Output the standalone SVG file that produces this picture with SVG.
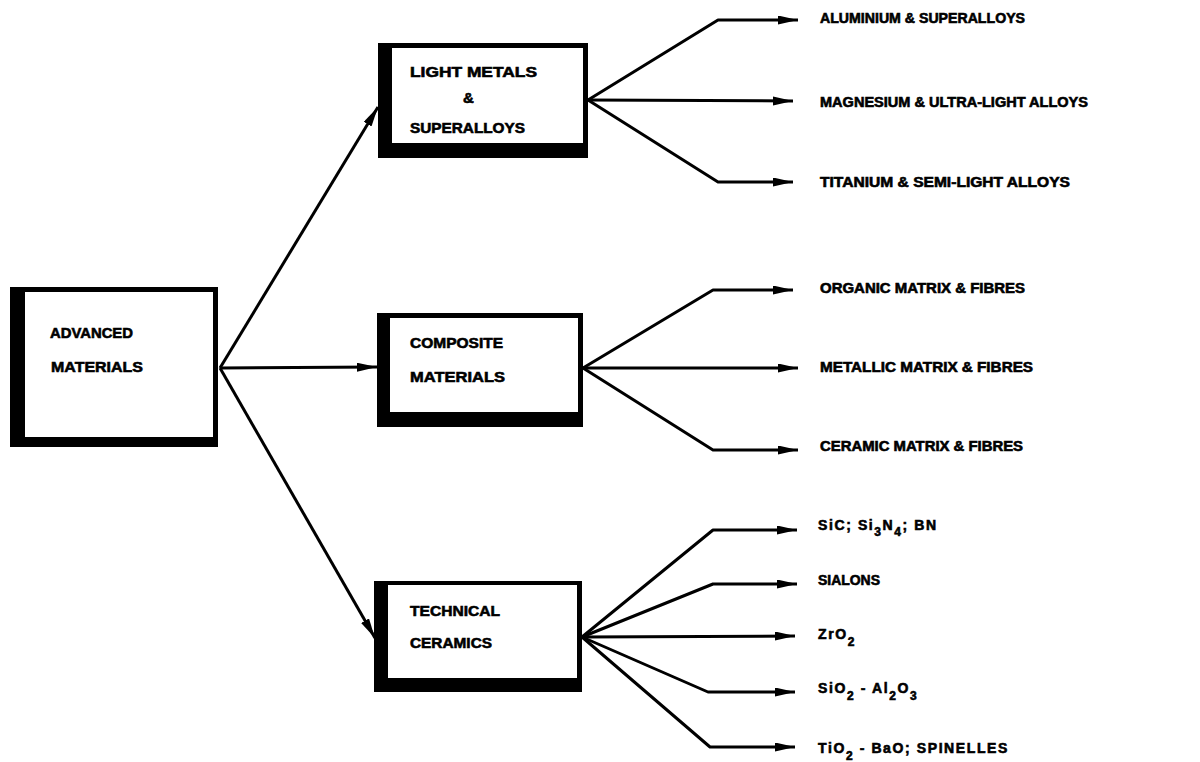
<svg xmlns="http://www.w3.org/2000/svg" width="1200" height="762" viewBox="0 0 1200 762">
<style>
.outer{fill:#000}
.inner{fill:#fff}
.bt{font-family:"Liberation Sans",Arial,sans-serif;font-weight:bold;font-size:15px;fill:#000;stroke:#000;stroke-width:0.6}
.lb{font-family:"Liberation Sans",Arial,sans-serif;font-weight:bold;font-size:14px;fill:#000;stroke:#000;stroke-width:0.6}
.ls{letter-spacing:1.6px}
.sub{font-size:12px}
.cn{fill:none;stroke:#000;stroke-width:3;stroke-linejoin:round}
</style>
<defs>
<marker id="ah" markerUnits="userSpaceOnUse" markerWidth="22" markerHeight="10" refX="20" refY="4.5" orient="auto">
<path d="M0,0 L20,4.5 L0,9 Z" fill="#000"/>
</marker>
</defs>
<rect width="1200" height="762" fill="#fff"/>
<g id="connectors">
<line class="cn" x1="220" y1="368" x2="378" y2="107" marker-end="url(#ah)"/>
<line class="cn" x1="220" y1="368" x2="377" y2="367" marker-end="url(#ah)"/>
<line class="cn" x1="220" y1="368" x2="375" y2="638" marker-end="url(#ah)"/>
<polyline class="cn" points="588,100 718,20 798,20" marker-end="url(#ah)"/>
<polyline class="cn" points="588,100 793,101" marker-end="url(#ah)"/>
<polyline class="cn" points="588,100 718,182 793,182" marker-end="url(#ah)"/>
<polyline class="cn" points="583,368 713,290 793,290" marker-end="url(#ah)"/>
<polyline class="cn" points="583,368 798,368" marker-end="url(#ah)"/>
<polyline class="cn" points="583,368 713,450 798,450" marker-end="url(#ah)"/>
<polyline class="cn" points="582,637 713,530 797,530" marker-end="url(#ah)"/>
<polyline class="cn" points="582,637 713,584 797,584" marker-end="url(#ah)"/>
<polyline class="cn" points="582,637 795,636" marker-end="url(#ah)"/>
<polyline class="cn" points="582,637 708,692 795,692" marker-end="url(#ah)"/>
<polyline class="cn" points="582,637 710,747 795,747" marker-end="url(#ah)"/>
</g>
<g id="advanced">
<rect class="outer" x="10" y="287" width="208" height="160"/>
<rect class="inner" x="25" y="292" width="188" height="145"/>
<text class="bt" x="50" y="338" textLength="83" lengthAdjust="spacingAndGlyphs">ADVANCED</text>
<text class="bt" x="51" y="372" textLength="92" lengthAdjust="spacingAndGlyphs">MATERIALS</text>
</g>
<g id="light">
<rect class="outer" x="378" y="43" width="210" height="115"/>
<rect class="inner" x="392" y="48" width="191" height="95"/>
<text class="bt" x="410" y="77" textLength="127" lengthAdjust="spacingAndGlyphs">LIGHT METALS</text>
<text class="bt" x="463" y="103">&amp;</text>
<text class="bt" x="410" y="133" textLength="115" lengthAdjust="spacingAndGlyphs">SUPERALLOYS</text>
</g>
<g id="composite">
<rect class="outer" x="377" y="313" width="206" height="114"/>
<rect class="inner" x="390" y="318" width="188" height="94"/>
<text class="bt" x="410" y="348" textLength="93" lengthAdjust="spacingAndGlyphs">COMPOSITE</text>
<text class="bt" x="410" y="382" textLength="95" lengthAdjust="spacingAndGlyphs">MATERIALS</text>
</g>
<g id="technical">
<rect class="outer" x="374" y="581" width="208" height="111"/>
<rect class="inner" x="388" y="585" width="189" height="93"/>
<text class="bt" x="410" y="616" textLength="90" lengthAdjust="spacingAndGlyphs">TECHNICAL</text>
<text class="bt" x="410" y="648" textLength="82" lengthAdjust="spacingAndGlyphs">CERAMICS</text>
</g>
<g id="labels">
<text class="lb" x="820" y="23" textLength="205" lengthAdjust="spacingAndGlyphs">ALUMINIUM &amp; SUPERALLOYS</text>
<text class="lb" x="820" y="107" textLength="268" lengthAdjust="spacingAndGlyphs">MAGNESIUM &amp; ULTRA-LIGHT ALLOYS</text>
<text class="lb" x="820" y="187" textLength="250" lengthAdjust="spacingAndGlyphs">TITANIUM &amp; SEMI-LIGHT ALLOYS</text>
<text class="lb" x="820" y="293" textLength="205" lengthAdjust="spacingAndGlyphs">ORGANIC MATRIX &amp; FIBRES</text>
<text class="lb" x="820" y="372" textLength="213" lengthAdjust="spacingAndGlyphs">METALLIC MATRIX &amp; FIBRES</text>
<text class="lb" x="820" y="451" textLength="203" lengthAdjust="spacingAndGlyphs">CERAMIC MATRIX &amp; FIBRES</text>
<text class="lb ls" x="818" y="530">SiC; Si<tspan class="sub" dy="6">3</tspan><tspan dy="-6">N</tspan><tspan class="sub" dy="6">4</tspan><tspan dy="-6">; BN</tspan></text>
<text class="lb" x="818" y="585" textLength="62" lengthAdjust="spacingAndGlyphs">SIALONS</text>
<text class="lb ls" x="818" y="639">ZrO<tspan class="sub" dy="7">2</tspan></text>
<text class="lb ls" x="818" y="693">SiO<tspan class="sub" dy="7">2</tspan><tspan dy="-7"> - Al</tspan><tspan class="sub" dy="7">2</tspan><tspan dy="-7">O</tspan><tspan class="sub" dy="7">3</tspan></text>
<text class="lb ls" x="818" y="753">TiO<tspan class="sub" dy="7">2</tspan><tspan dy="-7"> - BaO; SPINELLES</tspan></text>
</g>
</svg>
